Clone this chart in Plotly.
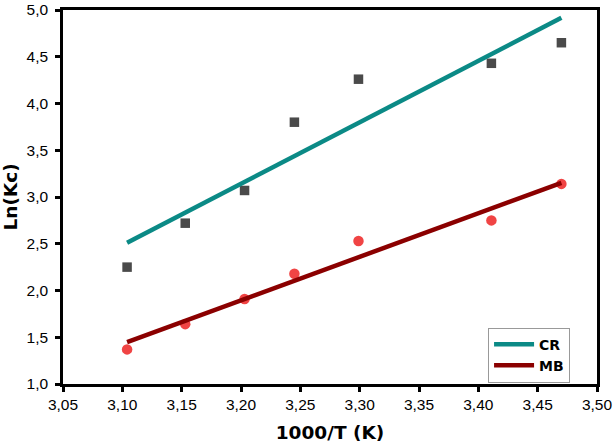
import numpy as np
import plotly.graph_objects as go

inv_T = [3.104, 3.153, 3.203, 3.245, 3.299, 3.411, 3.470]
cr_lnkc = [2.25, 2.72, 3.07, 3.80, 4.26, 4.43, 4.65]
mb_lnkc = [1.37, 1.64, 1.91, 2.18, 2.53, 2.75, 3.14]

x_ticks = [3.05, 3.10, 3.15, 3.20, 3.25, 3.30, 3.35, 3.40, 3.45, 3.50]
y_ticks = [1.0, 1.5, 2.0, 2.5, 3.0, 3.5, 4.0, 4.5, 5.0]

x = np.array(inv_T)
xf = np.array([x.min(), x.max()])
cr_fit = np.polyval(np.polyfit(x, cr_lnkc, 1), xf)
mb_fit = np.polyval(np.polyfit(x, mb_lnkc, 1), xf)

fig = go.Figure()
fig.add_trace(go.Scatter(x=inv_T, y=cr_lnkc, mode="markers", showlegend=False,
                         marker=dict(symbol="square", size=9.5, color="#4a4a4a")))
fig.add_trace(go.Scatter(x=inv_T, y=mb_lnkc, mode="markers", showlegend=False,
                         marker=dict(symbol="circle", size=10.5, color="#f04444")))
fig.add_trace(go.Scatter(x=xf, y=cr_fit, mode="lines", name="<b>CR</b>",
                         line=dict(color="#0b8a86", width=4.5)))
fig.add_trace(go.Scatter(x=xf, y=mb_fit, mode="lines", name="<b>MB</b>",
                         line=dict(color="#8b0000", width=4.5)))

tick_font = dict(family="Liberation Sans, Arial", size=15.5, color="black")
title_font = dict(family="DejaVu Sans", size=18.5, color="black")

axis_common = dict(showgrid=False, zeroline=False, showline=True, linecolor="black",
                   linewidth=2.5, mirror=True, ticks="outside", ticklen=5, tickwidth=2.5,
                   tickcolor="black", tickfont=tick_font, automargin=False,
                   ticklabeloverflow="allow")

fig.update_layout(
    width=614, height=445,
    margin=dict(l=63, r=17, t=10, b=61),
    paper_bgcolor="white", plot_bgcolor="white",
    separators=", ",
    xaxis=dict(range=[3.05, 3.50], tickvals=x_ticks, tickformat=".2f",
               title=dict(text="<b>1000/T (K)</b>", standoff=14, font=title_font),
               **axis_common),
    yaxis=dict(range=[1.0, 5.0], tickvals=y_ticks, tickformat=".1f", ticklabelstandoff=4,
               title=dict(text="<b>Ln(Kc)</b>", standoff=8, font=title_font),
               **axis_common),
    legend=dict(x=0.796, y=0.151, xanchor="left", yanchor="top",
                bordercolor="#999999", borderwidth=1, bgcolor="white",
                font=dict(family="DejaVu Sans", size=14, color="black"),
                itemwidth=40, tracegroupgap=0),
)

fig.write_html("out.html")
